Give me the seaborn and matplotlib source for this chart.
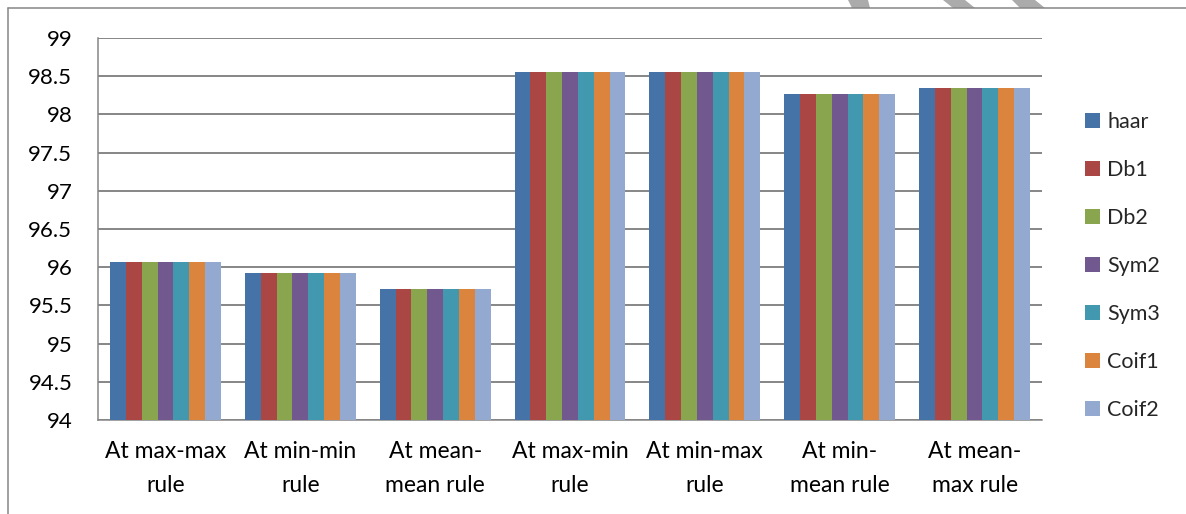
import matplotlib
matplotlib.use("Agg")
import matplotlib.pyplot as plt
from matplotlib.lines import Line2D
from matplotlib.patches import Polygon, Patch
import numpy as np
import pandas as pd
import seaborn as sns

# Accuracy (%) per fusion rule; every wavelet gives the same value in a group
rules = ["At max-max\nrule", "At min-min\nrule", "At mean-\nmean rule",
         "At max-min\nrule", "At min-max\nrule", "At min-\nmean rule",
         "At mean-\nmax rule"]
wavelets = ["haar", "Db1", "Db2", "Sym2", "Sym3", "Coif1", "Coif2"]
rule_accuracy = [96.07, 95.92, 95.71, 98.55, 98.55, 98.27, 98.34]
y_ticks = [94, 94.5, 95, 95.5, 96, 96.5, 97, 97.5, 98, 98.5, 99]
y_tick_labels = ["94", "94.5", "95", "95.5", "96", "96.5", "97", "97.5",
                 "98", "98.5", "99"]

palette = ["#4572A7", "#AA4643", "#89A54E", "#71588F", "#4198AF",
           "#DB843D", "#93A9CF"]

rows = [(r, w, v) for r, v in zip(rules, rule_accuracy) for w in wavelets]
df = pd.DataFrame(rows, columns=["rule", "wavelet", "accuracy"])

sns.set_theme(style="white")
plt.rcParams["font.family"] = ["Lato", "DejaVu Sans"]
FS_X = 16.5
FS_Y = 16
FS_LEG = 15.5
GRID = "#868686"

fig = plt.figure(figsize=(11.86, 5.14), dpi=100)
ax = fig.add_axes([98 / 1186, 1 - 420 / 514, (1042 - 98) / 1186, (420 - 38) / 514])

sns.barplot(data=df, x="rule", y="accuracy", hue="wavelet", order=rules,
            hue_order=wavelets, palette=palette, width=0.823, ax=ax,
            saturation=1, edgecolor="none", legend=False, zorder=3)

ax.set_ylim(94, 99)
ax.set_xlim(-0.5, len(rules) - 0.5)
ax.set_yticks(y_ticks)
ax.set_yticklabels(y_tick_labels, fontsize=FS_Y, color="black")
ax.set_xticks(range(len(rules)))
ax.set_xticklabels(rules, fontsize=FS_X, color="black", linespacing=1.75)
ax.set_xticks(np.arange(-0.5, len(rules), 1.0), minor=True)
ax.tick_params(axis="x", which="major", length=0, pad=15)
ax.tick_params(axis="x", which="minor", length=5.5, width=1.0, color=GRID,
               direction="out")
ax.tick_params(axis="y", which="major", length=6.5, width=1.0, color=GRID,
               direction="out", pad=12)
ax.set_xlabel("")
ax.set_ylabel("")

ax.yaxis.grid(True, color=GRID, linewidth=1.4, zorder=0)
ax.set_axisbelow(True)
for side in ("top", "right"):
    ax.spines[side].set_visible(False)
for side in ("left", "bottom"):
    ax.spines[side].set_color(GRID)
    ax.spines[side].set_linewidth(1.1)

handles = [Patch(facecolor=c, edgecolor="none") for c in palette]
fig.legend(handles, wavelets, loc="upper left",
           bbox_to_anchor=(1085 / 1186, 1 - 112 / 514), frameon=False,
           fontsize=FS_LEG, handlelength=0.7, handleheight=0.7,
           handletextpad=0.33, labelspacing=1.30, borderaxespad=0,
           borderpad=0)

# outer chart border (top and left edges)
fig.add_artist(Line2D([8 / 1186, 8 / 1186], [0, 1 - 8 / 514],
                      transform=fig.transFigure, color=GRID, linewidth=1.1))
fig.add_artist(Line2D([8 / 1186, 1], [1 - 8 / 514, 1 - 8 / 514],
                      transform=fig.transFigure, color=GRID, linewidth=1.1))

# grey dashed stroke crossing the top edge
for (xt0, xt1, xb0, xb1) in [(848, 868, 852, 870), (943, 965, 953, 975),
                             (1012, 1035, 1020, 1045)]:
    pts = [(xt0 / 1186, 1), (xt1 / 1186, 1),
           (xb1 / 1186, 1 - 8 / 514), (xb0 / 1186, 1 - 8 / 514)]
    fig.add_artist(Polygon(pts, closed=True, transform=fig.transFigure,
                           facecolor="#ABABAB", edgecolor="none"))

fig.savefig("out.png", dpi=100, facecolor="white")
